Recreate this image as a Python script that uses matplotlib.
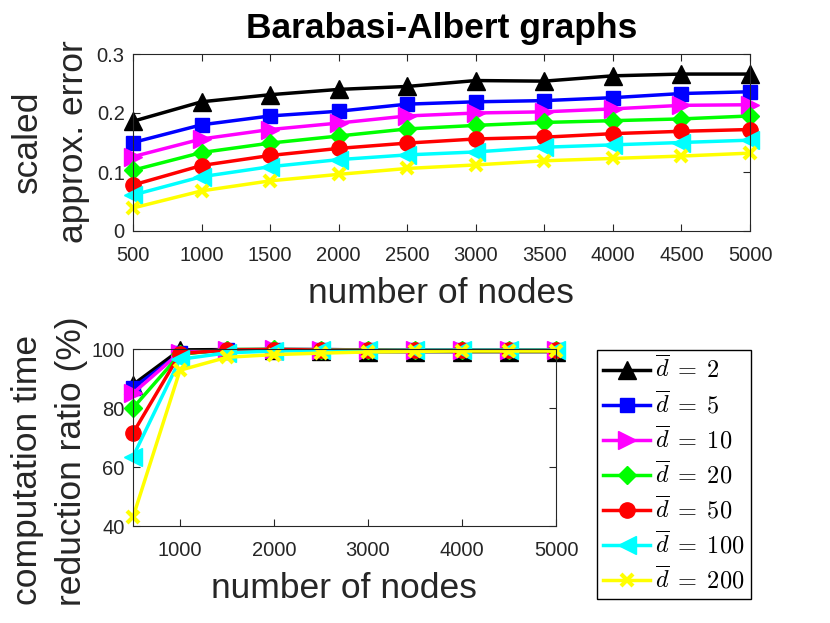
import numpy as np
import matplotlib
matplotlib.use('Agg')
import matplotlib.pyplot as plt

plt.rcParams['font.family'] = ['Liberation Sans', 'DejaVu Sans']
plt.rcParams['mathtext.fontset'] = 'cm'

# data
nodes = [500, 1000, 1500, 2000, 2500, 3000, 3500, 4000, 4500, 5000]
labels = [r'$\overline{d}\;=\;2$', r'$\overline{d}\;=\;5$', r'$\overline{d}\;=\;10$',
          r'$\overline{d}\;=\;20$', r'$\overline{d}\;=\;50$', r'$\overline{d}\;=\;100$',
          r'$\overline{d}\;=\;200$']

err_d2 = [0.186, 0.219, 0.231, 0.240, 0.245, 0.255, 0.254, 0.263, 0.266, 0.266]
err_d5 = [0.150, 0.180, 0.195, 0.203, 0.215, 0.219, 0.221, 0.226, 0.233, 0.236]
err_d10 = [0.126, 0.156, 0.172, 0.183, 0.195, 0.200, 0.202, 0.207, 0.213, 0.214]
err_d20 = [0.103, 0.133, 0.149, 0.161, 0.173, 0.179, 0.184, 0.187, 0.190, 0.195]
err_d50 = [0.078, 0.111, 0.128, 0.140, 0.149, 0.156, 0.159, 0.165, 0.169, 0.172]
err_d100 = [0.061, 0.092, 0.109, 0.121, 0.129, 0.134, 0.142, 0.146, 0.150, 0.154]
err_d200 = [0.039, 0.068, 0.085, 0.096, 0.106, 0.112, 0.119, 0.123, 0.127, 0.132]

red_d2 = [87.9, 99.7, 99.8, 99.8, 99.3, 99.1, 99.1, 99.1, 99.1, 99.1]
red_d5 = [86.8, 98.5, 99.6, 99.8, 99.8, 99.7, 99.7, 99.7, 99.7, 99.7]
red_d10 = [85.0, 98.8, 99.7, 99.9, 99.8, 99.7, 99.6, 99.6, 99.6, 99.7]
red_d20 = [80.0, 98.2, 99.8, 99.9, 99.8, 99.7, 99.6, 99.6, 99.6, 99.7]
red_d50 = [71.5, 98.4, 99.7, 99.8, 99.7, 99.6, 99.6, 99.6, 99.6, 99.6]
red_d100 = [63.5, 96.5, 98.7, 99.3, 99.5, 99.5, 99.6, 99.6, 99.6, 99.6]
red_d200 = [43.0, 92.8, 97.2, 98.1, 98.6, 99.0, 99.2, 99.3, 99.3, 99.3]

err_all = [err_d2, err_d5, err_d10, err_d20, err_d50, err_d100, err_d200]
red_all = [red_d2, red_d5, red_d10, red_d20, red_d50, red_d100, red_d200]

colors = ['black', (0, 0, 1), (1, 0, 1), (0, 1, 0), (1, 0, 0), (0, 1, 1), (1, 1, 0)]
markers = ['^', 's', '>', 'D', 'o', '<', 'x']
msizes = [13, 10, 13, 9, 11, 13, 9]

W, H = 830, 623
fig = plt.figure(figsize=(W / 100, H / 100), dpi=100)

def px_axes(left, top, right, bottom):
    return fig.add_axes([left / W, 1 - bottom / H, (right - left) / W, (bottom - top) / H])

ax1 = px_axes(133, 54, 750, 231)
ax2 = px_axes(133, 349, 556, 526)

axcol = (0.15, 0.15, 0.15)
for ax in (ax1, ax2):
    for s in ax.spines.values():
        s.set_color(axcol)
        s.set_linewidth(0.8)
    ax.tick_params(direction='in', length=5, width=0.8, colors=axcol,
                   labelsize=14.5, top=True, right=True, pad=6)
    ax.tick_params(axis='x', pad=11)

handles = []
for i in range(7):
    ms = msizes[i]
    mew = 3 if markers[i] == 'x' else 1
    ax1.plot(nodes, err_all[i], color=colors[i], marker=markers[i], markersize=ms,
             lw=2.5, mew=mew, clip_on=False)
    h, = ax2.plot(nodes, red_all[i], color=colors[i], marker=markers[i], markersize=ms,
                  lw=2.5, mew=mew, clip_on=False, label=labels[i])
    handles.append(h)

ax1.set_xlim(500, 5000)
ax1.set_ylim(0, 0.3)
ax1.set_xticks(nodes)
ax1.set_yticks([0, 0.1, 0.2, 0.3])
ax1.set_yticklabels(['0', '0.1', '0.2', '0.3'])

ax2.set_xlim(500, 5000)
ax2.set_ylim(40, 100)
ax2.set_xticks([1000, 2000, 3000, 4000, 5000])
ax2.set_yticks([40, 60, 80, 100])

fig.text(442 / W, 1 - 38 / H, 'Barabasi-Albert graphs', fontsize=25.5,
         fontweight='bold', ha='center', va='baseline')
fig.text(441 / W, 1 - 303 / H, 'number of nodes', fontsize=25.5, ha='center',
         va='baseline', color=axcol)
fig.text(344 / W, 1 - 598 / H, 'number of nodes', fontsize=25.5, ha='center',
         va='baseline', color=axcol)

fig.text(27 / W, 1 - 142 / H, 'scaled', fontsize=25.5, rotation=90,
         ha='center', va='center', color=axcol)
fig.text(73 / W, 1 - 142 / H, 'approx. error', fontsize=25.5, rotation=90,
         ha='center', va='center', color=axcol)
fig.text(27 / W, 1 - 470 / H, 'computation time', fontsize=25.5, rotation=90,
         ha='center', va='center', color=axcol)
fig.text(72 / W, 1 - 461 / H, 'reduction ratio (%)', fontsize=25.5, rotation=90,
         ha='center', va='center', color=axcol)

leg = fig.legend(handles=handles, loc='upper left',
                 bbox_to_anchor=(597 / W, 1 - 350 / H), bbox_transform=fig.transFigure,
                 fontsize=17.5, frameon=True, fancybox=False, edgecolor='black',
                 framealpha=1, borderpad=0.25, labelspacing=0.33, handlelength=1.95,
                 handletextpad=0.2, borderaxespad=0)
leg.get_frame().set_linewidth(1.0)

fig.savefig('out.png', dpi=100)
